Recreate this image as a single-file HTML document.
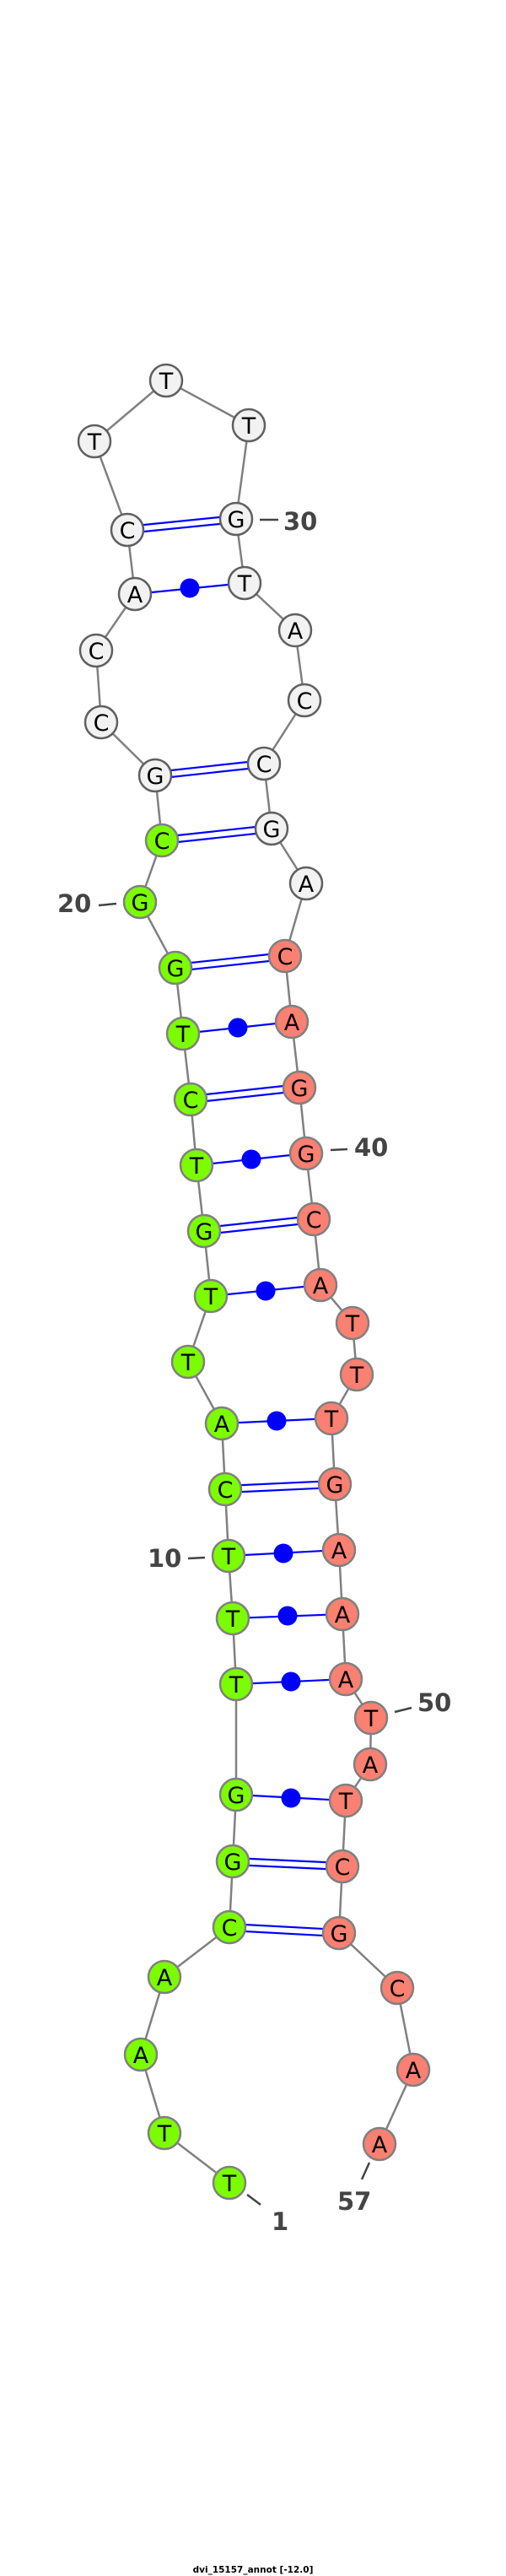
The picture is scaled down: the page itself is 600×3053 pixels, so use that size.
<!DOCTYPE html>
<html><head><meta charset="utf-8"><style>
html,body{margin:0;padding:0;background:#fff;}
svg{display:block;}
.n{font-family:"DejaVu Sans","Liberation Sans",sans-serif;font-size:27px;text-anchor:middle;fill:#000;}
.l{font-family:"DejaVu Sans","Liberation Sans",sans-serif;font-size:29px;font-weight:bold;fill:#444;}
.g{fill:#7CFC00;stroke:#808080;stroke-width:2.5}
.s{fill:#FA8072;stroke:#808080;stroke-width:2.5}
.w{fill:#F2F2F2;stroke:#606060;stroke-width:2.5}
.b{stroke:#0000ff;stroke-width:2.2;fill:none}
</style></head><body>
<svg width="600" height="3053" viewBox="0 0 600 3053" xmlns="http://www.w3.org/2000/svg">
<polyline fill="none" stroke="#808080" stroke-width="2.5" points="272,2587 195,2528 167,2435 195,2343 272,2284 276,2206 280,2127 280,1996 276,1918 271,1844 267,1765 263,1687 223,1614 250,1536 242,1459 233,1381 226,1303 217,1225 208,1147 166,1069 192,996 184,919 120,856 114,771 160,704 151,628 112,523 197,451 295,504 280,615 290,691 350,747 361,830 313,905 322,982 363,1047 338,1133 346,1211 355,1289 363,1367 372,1445 380,1523 418,1568 423,1629 393,1681 397,1759 402,1837 406,1913 410,1990 440,2036 439,2091 410,2134 406,2212 402,2291 471,2356 490,2453 450,2541"/>
<g class="b">
<line x1="272" y1="2280" x2="402" y2="2287"/><line x1="272" y1="2288" x2="402" y2="2295"/>
<line x1="276" y1="2202" x2="406" y2="2208"/><line x1="276" y1="2210" x2="406" y2="2216"/>
<line x1="267" y1="1761" x2="397" y2="1755"/><line x1="267" y1="1769" x2="397" y2="1763"/>
<line x1="242" y1="1455" x2="372" y2="1441"/><line x1="242" y1="1463" x2="372" y2="1449"/>
<line x1="226" y1="1299" x2="355" y2="1285"/><line x1="226" y1="1307" x2="355" y2="1293"/>
<line x1="208" y1="1143" x2="338" y2="1129"/><line x1="208" y1="1151" x2="338" y2="1137"/>
<line x1="192" y1="992" x2="322" y2="978"/><line x1="192" y1="1000" x2="322" y2="986"/>
<line x1="184" y1="915" x2="313" y2="901"/><line x1="184" y1="923" x2="313" y2="909"/>
<line x1="151" y1="624" x2="280" y2="611"/><line x1="151" y1="632" x2="280" y2="619"/>
<line x1="280" y1="2127" x2="410" y2="2134"/>
<line x1="280" y1="1996" x2="410" y2="1990"/>
<line x1="276" y1="1918" x2="406" y2="1913"/>
<line x1="271" y1="1844" x2="402" y2="1837"/>
<line x1="263" y1="1687" x2="393" y2="1681"/>
<line x1="250" y1="1536" x2="380" y2="1523"/>
<line x1="233" y1="1381" x2="363" y2="1367"/>
<line x1="217" y1="1225" x2="346" y2="1211"/>
<line x1="160" y1="704" x2="290" y2="691"/>
</g>
<g fill="#0000ff">
<circle cx="345" cy="2131" r="11.5"/><circle cx="345" cy="1993" r="11.5"/><circle cx="341" cy="1915" r="11.5"/>
<circle cx="336" cy="1841" r="11.5"/><circle cx="328" cy="1684" r="11.5"/><circle cx="315" cy="1530" r="11.5"/>
<circle cx="298" cy="1374" r="11.5"/><circle cx="282" cy="1218" r="11.5"/><circle cx="225" cy="697" r="11.5"/>
</g>
<g>
<circle class="g" cx="272" cy="2587" r="19"/><circle class="g" cx="195" cy="2528" r="19"/><circle class="g" cx="167" cy="2435" r="19"/><circle class="g" cx="195" cy="2343" r="19"/><circle class="g" cx="272" cy="2284" r="19"/><circle class="g" cx="276" cy="2206" r="19"/><circle class="g" cx="280" cy="2127" r="19"/><circle class="g" cx="280" cy="1996" r="19"/><circle class="g" cx="276" cy="1918" r="19"/><circle class="g" cx="271" cy="1844" r="19"/><circle class="g" cx="267" cy="1765" r="19"/><circle class="g" cx="263" cy="1687" r="19"/><circle class="g" cx="223" cy="1614" r="19"/><circle class="g" cx="250" cy="1536" r="19"/><circle class="g" cx="242" cy="1459" r="19"/><circle class="g" cx="233" cy="1381" r="19"/><circle class="g" cx="226" cy="1303" r="19"/><circle class="g" cx="217" cy="1225" r="19"/><circle class="g" cx="208" cy="1147" r="19"/><circle class="g" cx="166" cy="1069" r="19"/><circle class="g" cx="192" cy="996" r="19"/>
<circle class="w" cx="184" cy="919" r="19"/><circle class="w" cx="120" cy="856" r="19"/><circle class="w" cx="114" cy="771" r="19"/><circle class="w" cx="160" cy="704" r="19"/><circle class="w" cx="151" cy="628" r="19"/><circle class="w" cx="112" cy="523" r="19"/><circle class="w" cx="197" cy="451" r="19"/><circle class="w" cx="295" cy="504" r="19"/><circle class="w" cx="280" cy="615" r="19"/><circle class="w" cx="290" cy="691" r="19"/><circle class="w" cx="350" cy="747" r="19"/><circle class="w" cx="361" cy="830" r="19"/><circle class="w" cx="313" cy="905" r="19"/><circle class="w" cx="322" cy="982" r="19"/><circle class="w" cx="363" cy="1047" r="19"/>
<circle class="s" cx="338" cy="1133" r="19"/><circle class="s" cx="346" cy="1211" r="19"/><circle class="s" cx="355" cy="1289" r="19"/><circle class="s" cx="363" cy="1367" r="19"/><circle class="s" cx="372" cy="1445" r="19"/><circle class="s" cx="380" cy="1523" r="19"/><circle class="s" cx="418" cy="1568" r="19"/><circle class="s" cx="423" cy="1629" r="19"/><circle class="s" cx="393" cy="1681" r="19"/><circle class="s" cx="397" cy="1759" r="19"/><circle class="s" cx="402" cy="1837" r="19"/><circle class="s" cx="406" cy="1913" r="19"/><circle class="s" cx="410" cy="1990" r="19"/><circle class="s" cx="440" cy="2036" r="19"/><circle class="s" cx="439" cy="2091" r="19"/><circle class="s" cx="410" cy="2134" r="19"/><circle class="s" cx="406" cy="2212" r="19"/><circle class="s" cx="402" cy="2291" r="19"/><circle class="s" cx="471" cy="2356" r="19"/><circle class="s" cx="490" cy="2453" r="19"/><circle class="s" cx="450" cy="2541" r="19"/>
</g>
<g class="n">
<text x="272" y="2597">T</text><text x="195" y="2538">T</text><text x="167" y="2445">A</text><text x="195" y="2353">A</text><text x="272" y="2294">C</text><text x="276" y="2216">G</text><text x="280" y="2137">G</text><text x="280" y="2006">T</text><text x="276" y="1928">T</text><text x="271" y="1854">T</text><text x="267" y="1775">C</text><text x="263" y="1697">A</text><text x="223" y="1624">T</text><text x="250" y="1546">T</text><text x="242" y="1469">G</text><text x="233" y="1391">T</text><text x="226" y="1313">C</text><text x="217" y="1235">T</text><text x="208" y="1157">G</text><text x="166" y="1079">G</text><text x="192" y="1006">C</text>
<text x="184" y="929">G</text><text x="120" y="866">C</text><text x="114" y="781">C</text><text x="160" y="714">A</text><text x="151" y="638">C</text><text x="112" y="533">T</text><text x="197" y="461">T</text><text x="295" y="514">T</text><text x="280" y="625">G</text><text x="290" y="701">T</text><text x="350" y="757">A</text><text x="361" y="840">C</text><text x="313" y="915">C</text><text x="322" y="992">G</text><text x="363" y="1057">A</text>
<text x="338" y="1143">C</text><text x="346" y="1221">A</text><text x="355" y="1299">G</text><text x="363" y="1377">G</text><text x="372" y="1455">C</text><text x="380" y="1533">A</text><text x="418" y="1578">T</text><text x="423" y="1639">T</text><text x="393" y="1691">T</text><text x="397" y="1769">G</text><text x="402" y="1847">A</text><text x="406" y="1923">A</text><text x="410" y="2000">A</text><text x="440" y="2046">T</text><text x="439" y="2101">A</text><text x="410" y="2144">T</text><text x="406" y="2222">C</text><text x="402" y="2301">G</text><text x="471" y="2366">C</text><text x="490" y="2463">A</text><text x="450" y="2551">A</text>
</g>
<g stroke="#444" stroke-width="2.5">
<line x1="308" y1="616" x2="330" y2="616"/>
<line x1="117" y1="1073" x2="138" y2="1071"/>
<line x1="392" y1="1363" x2="412" y2="1362"/>
<line x1="223" y1="1847" x2="243" y2="1846"/>
<line x1="468" y1="2029" x2="488" y2="2024"/>
<line x1="293" y1="2601" x2="309" y2="2613"/>
<line x1="438" y1="2563" x2="429" y2="2583"/>
</g>
<g class="l">
<text x="336" y="628">30</text>
<text x="68" y="1081">20</text>
<text x="420" y="1370">40</text>
<text x="175" y="1857">10</text>
<text x="495" y="2028">50</text>
<text x="322" y="2643">1</text>
<text x="400" y="2619">57</text>
</g>
<text x="300" y="3049" text-anchor="middle" font-family="'DejaVu Sans','Liberation Sans',sans-serif" font-size="10.5" font-weight="bold" fill="#000">dvi_15157_annot [-12.0]</text>
</svg>
</body></html>
